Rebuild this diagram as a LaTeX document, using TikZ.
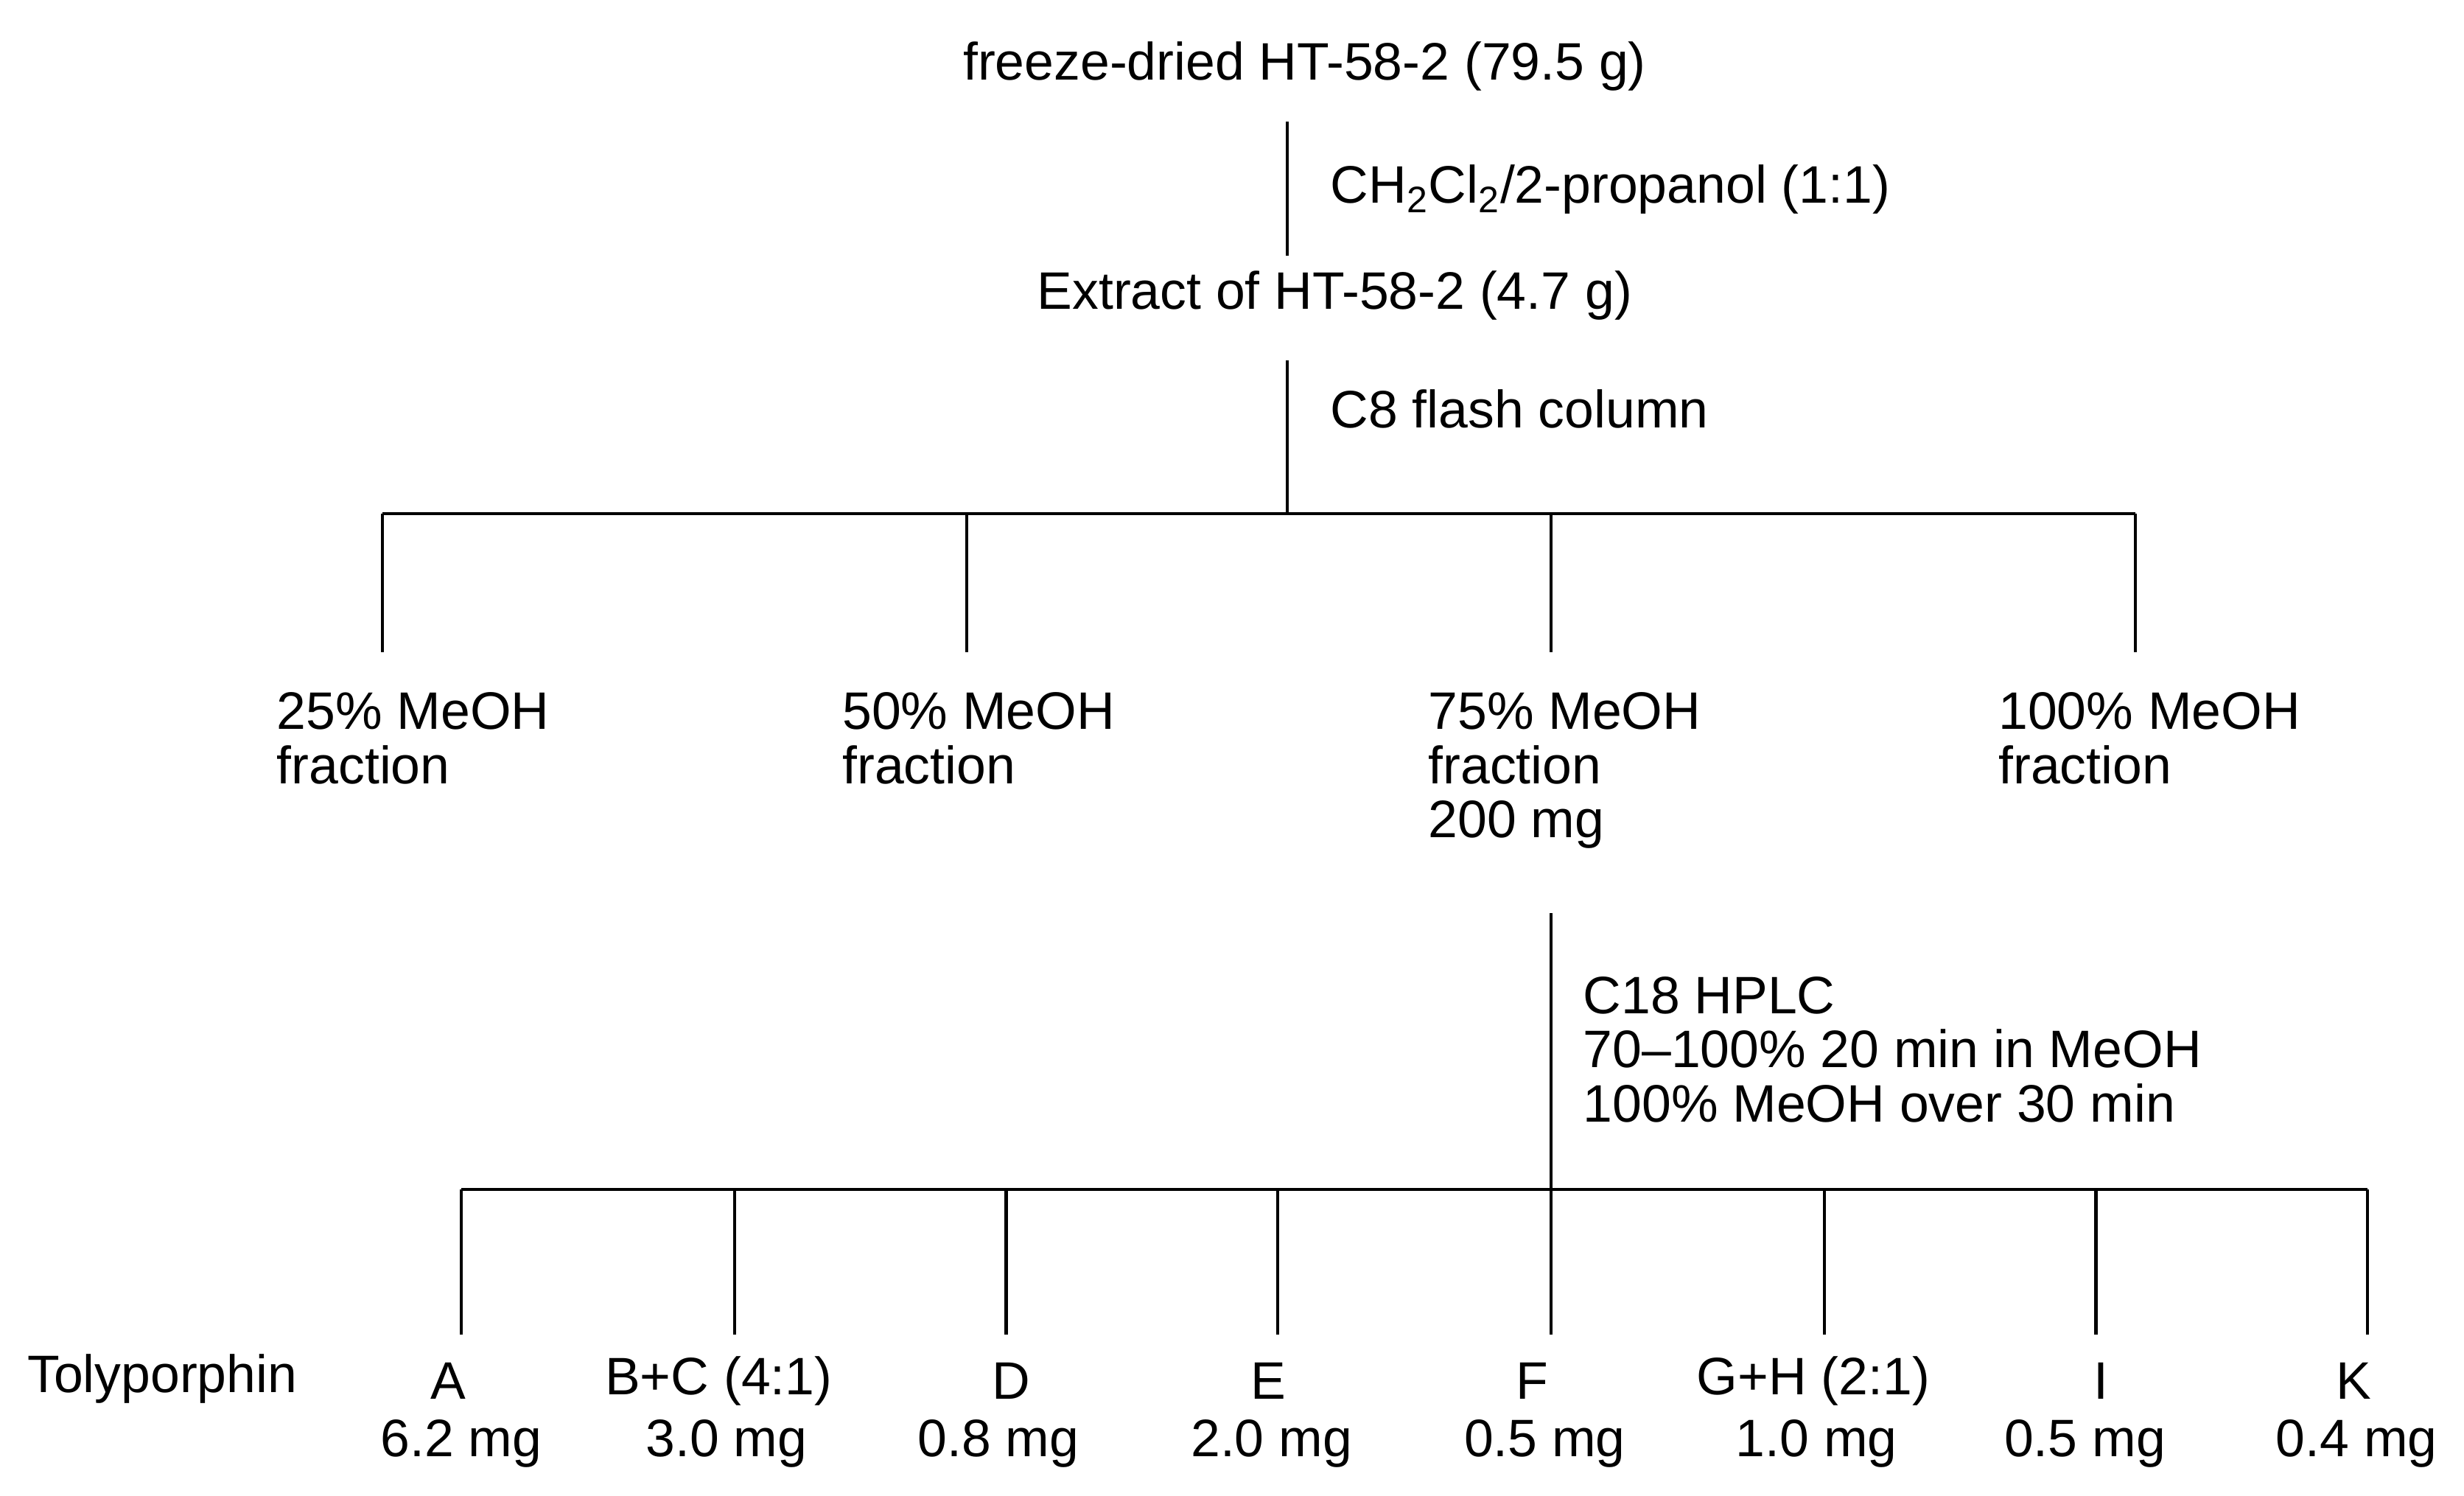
\documentclass[tikz,border=0pt]{standalone}
\usepackage{fontspec}
\setmainfont{Liberation Sans}
\begin{document}
\begin{tikzpicture}[x=0.02cm,y=-0.02cm,
  lbl/.style={inner sep=0pt,font=\fontsize{19}{19.5}\selectfont},
  ll/.style={lbl,anchor=west,align=left},
  ln/.style={line width=1.1pt}]
\useasboundingbox (0,0) rectangle (1560,947);
\node[lbl] (top) at (826,42) {freeze-dried HT-58-2 (79.5 g)};
\coordinate (a1) at (815,77); \coordinate (a2) at (815,162);
\draw[ln] (a1) -- (a2);
\node[ll] (sol) at (842,120) {CH\textsubscript{2}Cl\textsubscript{2}/2-propanol (1:1)};
\node[lbl] (ext) at (845,187) {Extract of HT-58-2 (4.7 g)};
\coordinate (b1) at (815,228); \coordinate (b2) at (815,325);
\draw[ln] (b1) -- (b2);
\node[ll] (c8) at (842,259) {C8 flash column};
\coordinate (h1) at (242,325); \coordinate (h2) at (1352,325);
\draw[ln] (h1) -- (h2);
\foreach \x in {242,612,982,1352} \draw[ln] (\x,325) -- (\x,413);
\node[ll,anchor=north west] (f1) at (175,438) {25\% MeOH\\fraction};
\node[ll,anchor=north west] (f2) at (533,438) {50\% MeOH\\fraction};
\node[ll,anchor=north west] (f3) at (904,438) {75\% MeOH\\fraction\\200 mg};
\node[ll,anchor=north west] (f4) at (1265,438) {100\% MeOH\\fraction};
\coordinate (c1) at (982,578); \coordinate (c2) at (982,845);
\draw[ln] (c1) -- (c2);
\node[ll,anchor=north west] (hplc) at (1002,618) {C18 HPLC\\70–100\% 20 min in MeOH\\100\% MeOH over 30 min};
\coordinate (g1) at (292,753); \coordinate (g2) at (1499,753);
\draw[ln] (g1) -- (g2);
\foreach \x in {292,465,637,809,1155,1327,1499} \draw[ln] (\x,753) -- (\x,845);
\node[ll] (tol) at (17,873) {Tolyporphin};
\foreach \n/\x/\t/\m/\mx in {A/284/A/6.2/292,B/455/B+C (4:1)/3.0/460,D/640/D/0.8/632,E/803/E/2.0/805,F/970/F/0.5/978,G/1148/G+H (2:1)/1.0/1150,I/1330/I/0.5/1320,K/1490/K/0.4/1492}{
  \node[lbl] (t\n) at (\x,874) {\t};
  \node[lbl] (m\n) at (\mx,914) {\m\ mg};
}
\end{tikzpicture}
\end{document}
